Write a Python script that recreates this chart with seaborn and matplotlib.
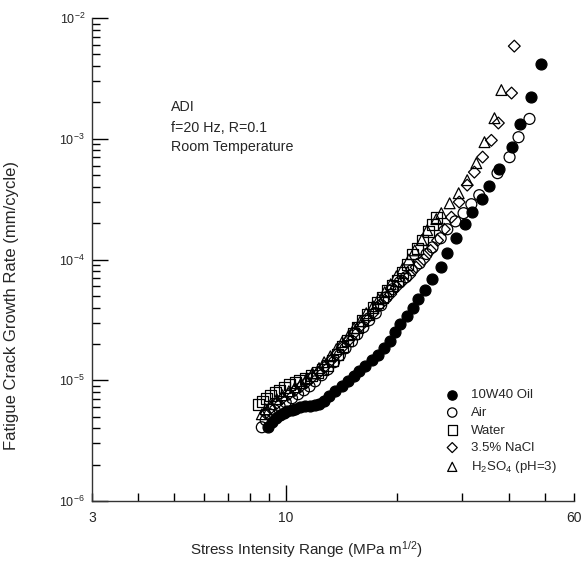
import matplotlib
matplotlib.use("Agg")
import matplotlib.pyplot as plt
import numpy as np
import pandas as pd
import seaborn as sns

# 10W40 Oil (filled circles)
oil_dk = [8.94, 9.17, 9.40, 9.63, 9.88, 10.1, 10.4, 10.6, 10.9, 11.3, 11.6, 12.0, 12.3, 12.7,
          13.1, 13.6, 14.2, 14.7, 15.3, 15.8, 16.4, 17.1, 17.7, 18.4, 19.1, 19.7, 20.3, 21.2,
          22.0, 22.8, 23.8, 24.9, 26.2, 27.3, 28.9, 30.4, 31.9, 33.8, 35.3, 37.7, 40.7, 43.0,
          45.8, 49.0]
oil_rate = [4.08e-6, 4.49e-6, 4.84e-6, 5.13e-6, 5.33e-6, 5.54e-6, 5.64e-6, 5.75e-6, 5.97e-6,
            6.09e-6, 6.10e-6, 6.21e-6, 6.33e-6, 6.70e-6, 7.37e-6, 8.10e-6, 8.90e-6, 9.80e-6,
            1.08e-5, 1.19e-5, 1.31e-5, 1.47e-5, 1.61e-5, 1.84e-5, 2.10e-5, 2.50e-5, 2.91e-5,
            3.39e-5, 3.95e-5, 4.69e-5, 5.57e-5, 6.87e-5, 8.64e-5, 1.13e-4, 1.50e-4, 1.96e-4,
            2.46e-4, 3.16e-4, 4.05e-4, 5.60e-4, 8.50e-4, 1.32e-3, 2.21e-3, 4.15e-3]

# Air (open circles)
air_dk = [8.62, 8.83, 9.06, 9.34, 9.63, 10.0, 10.4, 10.8, 11.2, 11.6, 12.0, 12.5, 13.0, 13.5,
          14.0, 14.5, 15.1, 15.6, 16.2, 16.8, 17.5, 18.1, 18.7, 19.4, 20.3, 21.1, 21.9, 23.0,
          24.0, 24.9, 26.2, 27.3, 28.7, 30.2, 31.7, 33.3, 37.3, 40.2, 42.5, 45.5]
air_rate = [4.08e-6, 4.67e-6, 5.23e-6, 5.64e-6, 6.09e-6, 6.57e-6, 7.10e-6, 7.66e-6, 8.26e-6,
            8.90e-6, 9.80e-6, 1.10e-5, 1.23e-5, 1.41e-5, 1.61e-5, 1.84e-5, 2.10e-5, 2.40e-5,
            2.75e-5, 3.14e-5, 3.59e-5, 4.18e-5, 4.87e-5, 5.67e-5, 6.48e-5, 7.13e-5, 8.15e-5,
            9.31e-5, 1.11e-4, 1.26e-4, 1.50e-4, 1.78e-4, 2.07e-4, 2.42e-4, 2.87e-4, 3.41e-4,
            5.19e-4, 7.04e-4, 1.03e-3, 1.46e-3]

# Water (open squares)
water_dk = [8.46, 8.67, 8.89, 9.11, 9.40, 9.63, 9.94, 10.25, 10.6, 10.9, 11.3, 11.75, 12.2,
            12.6, 13.0, 13.4, 13.8, 14.2, 14.7, 15.2, 15.6, 16.1, 16.6, 17.2, 17.7, 18.3, 18.8,
            19.4, 20.0, 20.7, 21.3, 22.0, 22.7, 23.4, 24.3, 24.9, 25.5]
water_rate = [6.33e-6, 6.70e-6, 7.10e-6, 7.52e-6, 7.97e-6, 8.26e-6, 8.75e-6, 9.27e-6, 9.62e-6,
              1.00e-5, 1.04e-5, 1.10e-5, 1.16e-5, 1.23e-5, 1.33e-5, 1.47e-5, 1.64e-5, 1.91e-5,
              2.14e-5, 2.45e-5, 2.75e-5, 3.14e-5, 3.52e-5, 4.03e-5, 4.43e-5, 4.87e-5, 5.56e-5,
              6.12e-5, 6.73e-5, 7.85e-5, 9.14e-5, 1.11e-4, 1.24e-4, 1.45e-4, 1.72e-4, 1.96e-4,
              2.24e-4]

# 3.5% NaCl (open diamonds)
nacl_dk = [41.4, 40.7, 37.5, 35.9, 34.0, 32.3, 30.9, 29.4, 28.0, 26.8, 25.7, 24.6, 23.6, 22.5,
           21.6, 20.7, 19.9, 19.2, 18.5, 17.8, 17.2, 16.5, 15.9, 15.3, 14.8, 14.2, 13.7, 13.2,
           12.7, 12.3, 11.8, 11.4, 11.0, 10.6, 10.2, 9.8, 9.46, 9.11, 8.83]
nacl_rate = [5.85e-3, 2.39e-3, 1.35e-3, 9.70e-4, 7.05e-4, 5.29e-4, 4.13e-4, 2.99e-4, 2.24e-4,
             1.78e-4, 1.44e-4, 1.19e-4, 1.00e-4, 8.63e-5, 7.41e-5, 6.61e-5, 5.89e-5, 5.16e-5,
             4.60e-5, 4.10e-5, 3.59e-5, 3.20e-5, 2.80e-5, 2.45e-5, 2.14e-5, 1.87e-5, 1.64e-5,
             1.44e-5, 1.28e-5, 1.16e-5, 1.06e-5, 9.62e-6, 8.92e-6, 8.26e-6, 7.65e-6, 7.10e-6,
             6.44e-6, 5.86e-6, 5.33e-6]

# H2SO4 pH=3 (open triangles)
acid_dk = [38.2, 36.6, 34.4, 32.7, 30.9, 29.3, 27.7, 26.3, 25.5, 24.1, 23.3, 22.3, 21.5, 20.7,
           19.9, 19.2, 18.5, 17.8, 17.2, 16.5, 15.9, 15.3, 14.8, 14.2, 13.7, 13.2, 12.7, 12.3,
           11.8, 11.4, 11.0, 10.6, 10.2, 9.8, 9.46, 9.11, 8.83, 8.62]
acid_rate = [2.53e-3, 1.48e-3, 9.37e-4, 6.28e-4, 4.54e-4, 3.54e-4, 2.92e-4, 2.42e-4, 2.16e-4,
             1.75e-4, 1.45e-4, 1.19e-4, 1.00e-4, 8.47e-5, 7.27e-5, 6.24e-5, 5.36e-5, 4.69e-5,
             4.10e-5, 3.59e-5, 3.08e-5, 2.70e-5, 2.36e-5, 2.07e-5, 1.81e-5, 1.58e-5, 1.41e-5,
             1.26e-5, 1.14e-5, 1.04e-5, 9.45e-6, 8.75e-6, 8.11e-6, 7.52e-6, 6.97e-6, 6.33e-6,
             5.75e-6, 5.23e-6]

x_ticks = [3, 10, 60]
x_ticklabels = ["3", "10", "60"]
x_minor = [4, 5, 6, 7, 8, 9, 20, 30, 40, 50]

sns.set_style("ticks")
plt.rcParams['font.family'] = ['Liberation Sans', 'DejaVu Sans']
plt.rcParams['mathtext.fontset'] = 'custom'
plt.rcParams['mathtext.rm'] = 'Liberation Sans'
plt.rcParams['mathtext.it'] = 'Liberation Sans:italic'
plt.rcParams['mathtext.bf'] = 'Liberation Sans:bold'

fig = plt.figure(figsize=(5.84, 5.62), dpi=100)
ax = fig.add_axes([92 / 584, 61 / 562, 482 / 584, 483 / 562])

series = [
    ("10W40 Oil", oil_dk, oil_rate, "o", "black", 62),
    ("Air", air_dk, air_rate, "o", "none", 62),
    ("Water", water_dk, water_rate, "s", "none", 62),
    ("3.5% NaCl", nacl_dk, nacl_rate, "D", "none", 36),
    (r"H$_2$SO$_4$ (pH=3)", acid_dk, acid_rate, "^", "none", 60),
]
for name, dk, rate, mk, fc, sz in series:
    sns.scatterplot(x=dk, y=rate, marker=mk, s=sz, facecolor=fc, edgecolor="black",
                    linewidth=0.9, label=name, ax=ax, zorder=3)

ax.set_xscale("log")
ax.set_yscale("log")
ax.set_xlim(3, 60)
ax.set_ylim(1e-6, 1e-2)

ax.set_xticks(x_ticks, labels=x_ticklabels)
ax.set_xticks(x_minor, minor=True)
ax.xaxis.set_minor_formatter(matplotlib.ticker.NullFormatter())
ax.yaxis.set_major_locator(matplotlib.ticker.LogLocator(base=10, numticks=10))
ax.yaxis.set_minor_locator(matplotlib.ticker.LogLocator(base=10, subs=range(2, 10), numticks=20))
ax.yaxis.set_minor_formatter(matplotlib.ticker.NullFormatter())

ax.tick_params(which="major", direction="in", length=11.5, width=1, color="black")
ax.tick_params(which="minor", direction="in", length=6, width=1, color="black")
ax.tick_params(axis="x", which="major", labelsize=10, pad=7)
ax.tick_params(axis="y", which="major", labelsize=9, pad=5)
ax.xaxis.get_major_ticks()[2].tick1line.set_markersize(6)
ax.xaxis.get_major_ticks()[0].tick1line.set_markersize(6)

sns.despine(ax=ax)
for sp in ["left", "bottom"]:
    ax.spines[sp].set_linewidth(1.0)
    ax.spines[sp].set_color("#333333")

ax.set_xlabel(r"Stress Intensity Range (MPa m$^{1/2}$)", fontsize=11)
ax.xaxis.set_label_coords(0.444, -0.079)
ax.set_ylabel("Fatigue Crack Growth Rate (mm/cycle)", fontsize=12)
ax.yaxis.set_label_coords(-0.152, 0.405)

for txt, yp in [("ADI", 107), ("f=20 Hz, R=0.1", 127.5), ("Room Temperature", 147.5)]:
    fig.text(171 / 584, 1 - yp / 562, txt, fontsize=10.3, va="center", ha="left")

ax.legend(loc="upper left", bbox_to_anchor=(0.72, 0.245), frameon=False, fontsize=9.5,
          handlelength=1.0, handletextpad=0.9, labelspacing=0.4, borderpad=0,
          markerscale=0.85)

fig.savefig("out.png", dpi=100)
